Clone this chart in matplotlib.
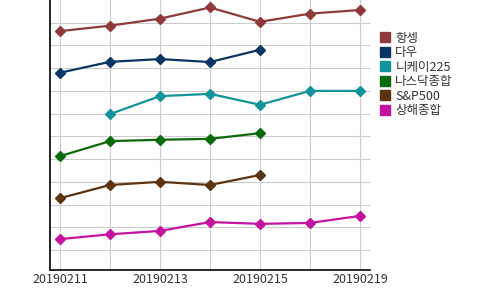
import numpy as np
import matplotlib.pyplot as plt
from matplotlib.lines import Line2D

plt.rcParams['font.family'] = ['Noto Sans CJK KR', 'DejaVu Sans']

dates = ["20190211", "20190212", "20190213", "20190214", "20190215", "20190218", "20190219"]
nan = np.nan
hangseng = [10.63, 10.87, 11.18, 11.67, 11.04, 11.40, 11.56]
dow = [8.80, 9.28, 9.40, 9.27, 9.81, nan, nan]
nikkei = [nan, 6.98, 7.77, 7.87, 7.39, 8.00, 8.00]
nasdaq = [5.13, 5.79, 5.85, 5.89, 6.14, nan, nan]
sp500 = [3.28, 3.86, 4.00, 3.86, 4.30, nan, nan]
shanghai = [1.48, 1.69, 1.84, 2.23, 2.15, 2.19, 2.50]

names = ["항셍", "다우", "니케이225", "나스닥종합", "S&P500", "상해종합"]
series = [hangseng, dow, nikkei, nasdaq, sp500, shanghai]
colors = ["#8E3A3C", "#0B3563", "#13939A", "#0B6A0B", "#5C3311", "#C4139E"]

fig = plt.figure(figsize=(5, 2.9), dpi=100)
ax = fig.add_axes([0.1, 0.069, 0.64, 0.931])

x = np.arange(len(dates))
for vals, c in zip(series, colors):
    ax.plot(x, vals, color=c, lw=1.6, marker="D", markersize=5.5, zorder=3)

ax.set_xlim(-0.2, 6.2)
ax.set_ylim(0.12, 12.0)
ax.set_yticks(np.arange(1, 12))
ax.set_yticklabels([])
ax.set_xticks(x)
ax.set_xticklabels([d if i % 2 == 0 else "" for i, d in enumerate(dates)], fontsize=9, color="#333333")
ax.tick_params(axis="both", length=0, pad=2)
ax.grid(True, color="#cccccc", lw=0.8)
ax.set_axisbelow(True)
for s in ["top", "right"]:
    ax.spines[s].set_visible(False)
for s in ["left", "bottom"]:
    ax.spines[s].set_color("black")
    ax.spines[s].set_linewidth(1.2)

handles = [Line2D([], [], ls="none", marker="s", markersize=7.5, color=c) for c in colors]
fig.legend(handles, names, loc="upper left", bbox_to_anchor=(0.748, 0.912), frameon=False,
           fontsize=9, handlelength=0.8, handletextpad=0.4, labelspacing=0.12, borderpad=0,
           labelcolor="#333333")

fig.savefig("out.png", dpi=100)
